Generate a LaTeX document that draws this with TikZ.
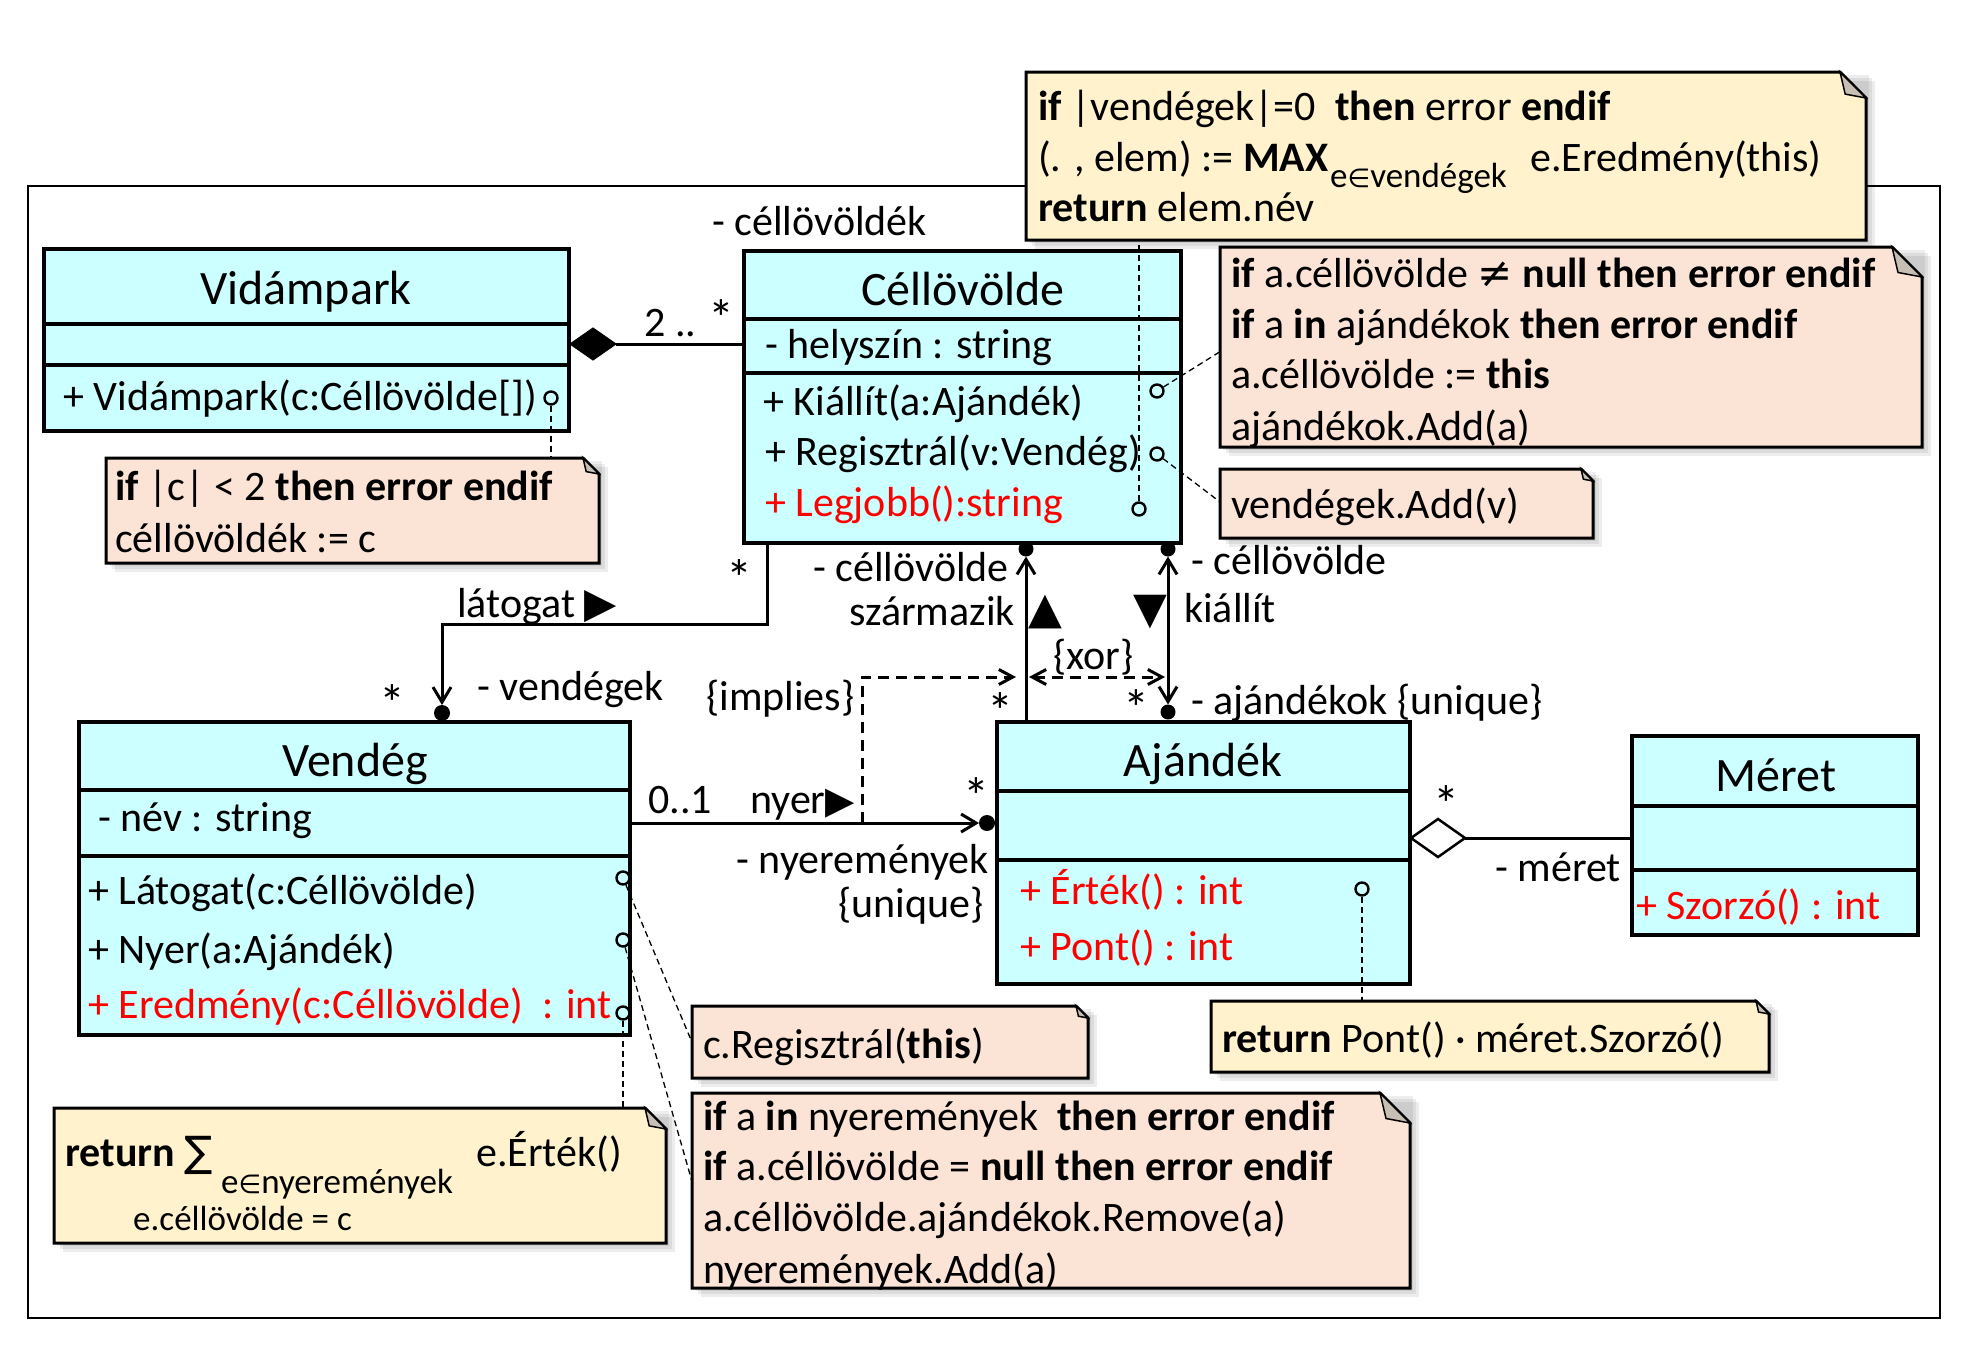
\documentclass[tikz,border=0pt]{standalone}
\usepackage{fontspec}
\setmainfont{Carlito}
\newfontfamily\symf{DejaVu Sans}
\usetikzlibrary{arrows.meta,calc,shapes.geometric}
\definecolor{clsfill}{HTML}{CCFFFF}
\definecolor{pinkn}{HTML}{FBE3D6}
\definecolor{yelln}{HTML}{FFF2CC}
\definecolor{foldc}{HTML}{C8BFB4}
\definecolor{redt}{HTML}{FF0000}
\tikzset{
  cls/.style={draw, line width=3.5pt, fill=clsfill, inner sep=0pt, outer sep=0pt},
  ttl/.style={font=\fontsize{48}{58}\selectfont, inner sep=0pt, anchor=base, yshift=-2pt},
  mem/.style={font=\fontsize{42}{51}\selectfont, inner sep=0pt, anchor=base west, yshift=-4pt},
  redm/.style={mem, text=redt},
  lbl/.style={font=\fontsize{42}{51}\selectfont, inner sep=0pt, anchor=base west, yshift=-4pt},
  lblr/.style={lbl, anchor=base east},
  star/.style={font=\fontsize{52}{60}\selectfont, inner sep=0pt, anchor=base, yshift=-6pt},
  notet/.style={font=\fontsize{42}{51}\selectfont, inner sep=0pt, anchor=base west, yshift=-4pt},
  subt/.style={font=\fontsize{35}{42}\selectfont, inner sep=0pt, anchor=base west, yshift=-3pt},
  tri/.style={font=\symf\fontsize{44}{50}\selectfont, inner sep=0pt},
  opc/.style={circle, draw, line width=2.4pt, minimum size=13pt, inner sep=0pt},
  dotn/.style={circle, fill, minimum size=16pt, inner sep=0pt, outer sep=0pt},
  assoc/.style={line width=3pt},
  arr/.style={-{Straight Barb[length=15pt,width=18pt]}},
  arrb/.style={{Straight Barb[length=15pt,width=18pt]}-{Straight Barb[length=15pt,width=18pt]}},
  arrc/.style={{Straight Barb[length=14pt,width=15pt]}-{Straight Barb[length=14pt,width=15pt]}},
  arrd/.style={-{Straight Barb[length=14pt,width=15pt]}},
  nlink/.style={line width=1.3pt, dash pattern=on 6pt off 4pt},
  cons/.style={line width=3pt, dash pattern=on 11pt off 7pt},
}
\newcommand\umlclass[7]{%
  \node[cls, minimum width={#4-#2}, minimum height={#5-#3}] (#1) at ({(#2+#4)/2},{(#3+#5)/2}) {};
  \draw[line width=3.5pt] (#2,#6) -- (#4,#6) (#2,#7) -- (#4,#7);
}
\newcommand\umlnote[7]{%
  \fill[black, opacity=0.07] ({#2+3},{#3+3}) rectangle ({#4+3},{#5+3});
  \fill[black, opacity=0.07] ({#2+6},{#3+6}) rectangle ({#4+6},{#5+6});
  \fill[black, opacity=0.07] ({#2+9},{#3+9}) rectangle ({#4+9},{#5+9});
  \path[fill=#6, draw, line width=3pt, line join=miter] (#2,#3) -- ({#4-#7},#3) -- (#4,{#3+#7}) -- (#4,#5) -- (#2,#5) -- cycle;
  \path[fill=foldc, draw, line width=1.5pt] ({#4-#7},#3) -- ({#4-0.8*#7},{#3+0.85*#7}) -- (#4,{#3+#7}) -- cycle;
  \node[inner sep=0pt, minimum width={#4-#2}, minimum height={#5-#3}] (#1) at ({(#2+#4)/2},{(#3+#5)/2}) {};
}
\begin{document}
\begin{tikzpicture}[x=1pt,y=-1pt]
\useasboundingbox (0,0) rectangle (1970,1344);
\fill[white] (0,0) rectangle (1970,1344);
\node[draw, line width=2.5pt, minimum width=1912, minimum height=1132, inner sep=0pt] (frame) at (984,752) {};

% ---------- classes ----------
\umlclass{vid}{44}{249}{569}{431}{324}{365}
\node[ttl] (vidT) at (306,302) {Vidámpark};
\node[mem] (vidM) at (63,406) {+ Vidámpark(c:Céllövölde[])};
\node[opc] (vidC) at (551,398) {};

\umlclass{cel}{744}{251}{1181}{543}{319}{373}
\node[ttl] (celT) at (963,303) {Céllövölde};
\node[mem] (celA) at (765,354) {- helyszín : string};
\node[mem] (celM1) at (763,411) {+ Kiállít(a:Ajándék)};
\node[mem] (celM2) at (765,461) {+ Regisztrál(v:Vendég)};
\node[redm] (celM3) at (765,512) {+ Legjobb():string};
\node[opc] (kiaC) at (1157,391) {};
\node[opc] (regC) at (1157,454) {};
\node[opc] (legC) at (1139,509) {};

\umlclass{ven}{79}{722}{630}{1035}{790}{856}
\node[ttl] (venT) at (355,774) {Vendég};
\node[mem] (venA) at (98,827) {- név : string};
\node[mem] (venM1) at (88,900) {+ Látogat(c:Céllövölde)};
\node[mem] (venM2) at (88,959) {+ Nyer(a:Ajándék)};
\node[redm] (venM3) at (88,1014) {+ Eredmény(c:Céllövölde) \ : int};
\node[opc] (latC) at (623,878) {};
\node[opc] (nyC) at (623,940) {};
\node[opc] (erC) at (623,1013) {};

\umlclass{aj}{997}{722}{1410}{984}{791}{860}
\node[ttl] (ajT) at (1203,774) {Ajándék};
\node[redm] (ajM1) at (1020,900) {+ Érték() : int};
\node[redm] (ajM2) at (1020,956) {+ Pont() : int};
\node[opc] (ajC) at (1362,889) {};

\umlclass{mer}{1632}{736}{1918}{935}{806}{870}
\node[ttl] (merT) at (1776,789) {Méret};
\node[redm] (merM) at (1636,915) {+ Szorzó() : int};

% ---------- notes ----------
\umlnote{n1}{106}{458}{599}{563}{pinkn}{16}
\node[notet] (n1a) at (115,496) {\textbf{if} |c| < 2 \textbf{then error endif}};
\node[notet] (n1b) at (115,548) {céllövöldék := c};

\umlnote{tn}{1026}{72}{1866}{240}{yelln}{26}
\node[notet] (tna) at (1038,116) {\textbf{if} |vendégek|=0 \ \textbf{then} error \textbf{endif}};
\node[notet] (tnb) at (1038,167) {(. , elem) := \textbf{MAX}};
\node[subt] (tnbs) at (1330,184) {e{\symf\fontsize{26}{30}\selectfont ∈}vendégek};
\node[notet] (tnbe) at (1530,167) {e.Eredmény(this)};
\node[notet] (tnc) at (1038,217) {\textbf{return} elem.név};

\umlnote{kn}{1220}{247}{1922}{447}{pinkn}{30}
\node[notet] (kna) at (1231,283) {\textbf{if} a.céllövölde {\symf ≠} \textbf{null then error endif}};
\node[notet] (knb) at (1231,334) {\textbf{if} a \textbf{in} ajándékok \textbf{then error endif}};
\node[notet] (knc) at (1231,384) {a.céllövölde := \textbf{this}};
\node[notet] (knd) at (1231,436) {ajándékok.Add(a)};

\umlnote{vn}{1220}{469}{1593}{538}{pinkn}{12}
\node[notet] (vna) at (1231,514) {vendégek.Add(v)};

\umlnote{rn}{692}{1006}{1088}{1078}{pinkn}{12}
\node[notet] (rna) at (703,1054) {c.Regisztrál(\textbf{this})};

\umlnote{bn}{692}{1093}{1410}{1288}{pinkn}{30}
\node[notet] (bna) at (703,1126) {\textbf{if} a \textbf{in} nyeremények \ \textbf{then error endif}};
\node[notet] (bnb) at (703,1176) {\textbf{if} a.céllövölde = \textbf{null then error endif}};
\node[notet] (bnc) at (703,1227) {a.céllövölde.ajándékok.Remove(a)};
\node[notet] (bnd) at (703,1279) {nyeremények.Add(a)};

\umlnote{en}{54}{1108}{666}{1243}{yelln}{21}
\node[notet] (ena) at (65,1162) {\textbf{return} {\symf ∑}};
\node[subt] (enas) at (221,1190) {e{\symf\fontsize{26}{30}\selectfont ∈}nyeremények};
\node[notet] (enae) at (476,1162) {e.Érték()};
\node[subt] (enb) at (133,1227) {e.céllövölde = c};

\umlnote{pn}{1211}{1001}{1769}{1072}{yelln}{13}
\node[notet] (pna) at (1222,1048) {\textbf{return} Pont() · méret.Szorzó()};

% ---------- note links ----------
\draw[nlink] (vidC) -- (vidC |- n1.north);
\draw[nlink] (legC) -- (legC |- tn.south);
\draw[nlink] (kiaC) -- ([yshift=-105pt]kn.north west);
\draw[nlink] (regC) -- ([yshift=-33pt]vn.north west);
\draw[nlink] (latC) -- ([yshift=-36pt]rn.north west);
\draw[nlink] (nyC) -- ([yshift=-88pt]bn.north west);
\draw[nlink] (erC) -- (erC |- en.north);
\draw[nlink] (ajC) -- (ajC |- pn.north);

% ---------- composition ----------
\node[diamond, fill, draw, line width=1pt, minimum width=46pt, minimum height=32pt, inner sep=0pt, outer sep=0pt, anchor=west] (compd) at (570,344) {};
\draw[assoc] (compd.east) -- (cel.west |- compd.east);
\node[lblr] (compm) at (735,332) {2 .. {\fontsize{52}{60}\selectfont *}};
\node[lbl] (compr) at (712,231) {- céllövöldék};

% ---------- latogat ----------
\node[dotn] (dV) at (442,713) {};
\coordinate (lt1) at (767,624);
\coordinate (lt2) at (442,624);
\draw[assoc, arr] (cel.south -| lt1) -- (lt1) -- (lt2) -- (dV);
\node[star] (s1) at (739,590) {*};
\node[lbl] (latL) at (457,613) {látogat {\symf\fontsize{42}{48}\selectfont ▶}};
\node[star] (s2) at (392,715) {*};
\node[lbl] (venR) at (477,696) {- vendégek};

% ---------- nyer ----------
\node[dotn] (dN) at (987,823) {};
\draw[assoc, arr] (ven.east |- dN) -- (dN);
\node[lbl] (nyM) at (648,809) {0..1};
\node[lbl] (nyL) at (750,809) {nyer{\symf\fontsize{38}{44}\selectfont ▶}};
\node[star] (s3) at (976,808) {*};
\node[lblr] (nyR1) at (989,869) {- nyeremények};
\node[lblr] (nyR2) at (984,913) {\{unique\}};

% ---------- szarmazik ----------
\node[dotn, minimum size=15pt] (dS) at (1026,549) {};
\draw[assoc, arr] (aj.north -| dS) -- (dS);
\node[lblr] (szR) at (1009,577) {- céllövölde};
\node[lblr] (szL) at (1015,621) {származik};
\node[tri] (szT) at (1045,612) {▲};
\node[star] (s4) at (1000,723) {*};

% ---------- kiallit ----------
\node[dotn, minimum size=15pt] (dK1) at (1168,549) {};
\node[dotn, minimum size=15pt] (dK2) at (1168,712) {};
\draw[assoc, arrb] (dK2) -- (dK1);
\node[lbl] (kiR) at (1191,570) {- céllövölde};
\node[tri] (kiT) at (1150,612) {▼};
\node[lbl] (kiL) at (1184,618) {kiállít};
\node[star] (s5) at (1136,720) {*};
\node[lbl] (kiR2) at (1191,710) {- ajándékok \{unique\}};

% ---------- constraints ----------
\coordinate (xa) at (1029,677);
\coordinate (xb) at (1165,677);
\draw[cons, arrc] (xa) -- (xb);
\node[lbl] (xorL) at (1053,665) {\{xor\}};
\coordinate (im1) at (862,823);
\coordinate (im2) at (862,677);
\coordinate (im3) at (1016,677);
\draw[cons, arrd] (im1) -- (im2) -- (im3);
\node[lbl] (impL) at (706,706) {\{implies\}};

% ---------- aggregation ----------
\node[diamond, draw, fill=white, line width=2.5pt, minimum width=54pt, minimum height=38pt, inner sep=0pt, outer sep=0pt, anchor=west] (aggd) at (1411,838) {};
\draw[assoc] (aggd.east) -- (mer.west |- aggd.east);
\node[star] (s6) at (1446,816) {*};
\node[lblr] (merR) at (1621,877) {- méret};
\end{tikzpicture}
\end{document}
